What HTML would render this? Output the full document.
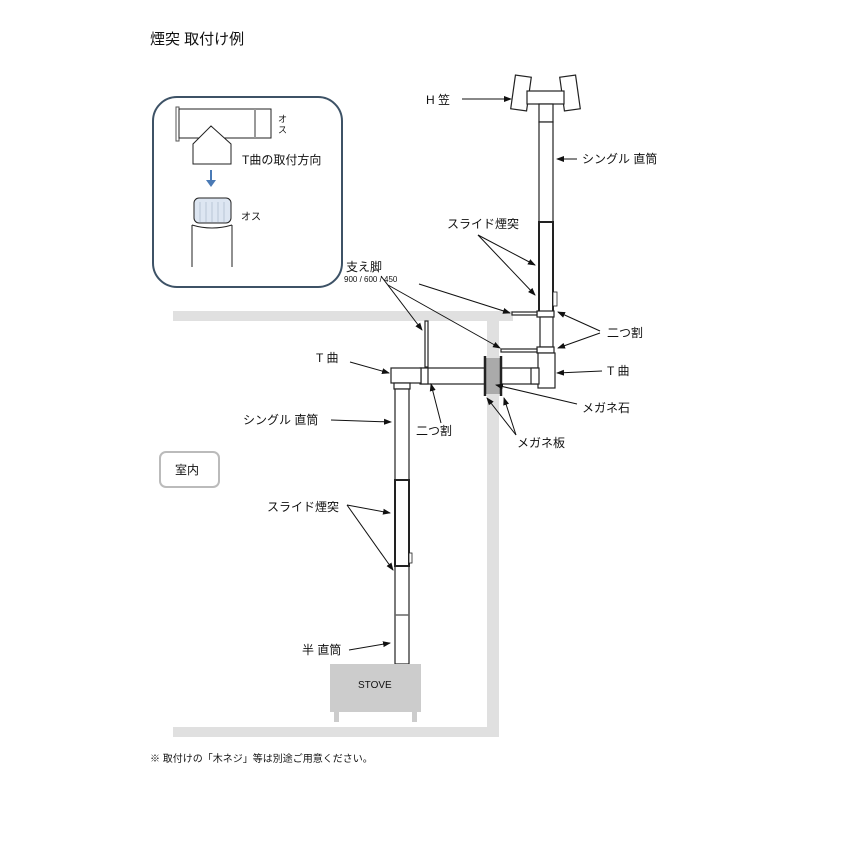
<!DOCTYPE html>
<html><head><meta charset="utf-8"><style>
html,body{margin:0;padding:0;background:#fff;}
svg{display:block;}
text{font-family:"Liberation Sans","Noto Sans CJK JP",sans-serif;fill:#111;}
</style></head><body>
<svg width="842" height="842" viewBox="0 0 842 842" xmlns="http://www.w3.org/2000/svg">
<defs><marker id="a" markerWidth="8" markerHeight="8" refX="7" refY="4" orient="auto" markerUnits="userSpaceOnUse"><path d="M0,1 L8,4 L0,7 Z" fill="#111"/></marker></defs>
<text x="150" y="44" font-size="15">煙突 取付け例</text>
<!-- inset -->
<rect x="153" y="97" width="189" height="190" rx="24" fill="#fff" stroke="#3d5266" stroke-width="2"/>
<rect x="176" y="107" width="3" height="34" fill="#fff" stroke="#555"/>
<rect x="179" y="109" width="92" height="29" fill="#fff" stroke="#222"/>
<line x1="255" y1="109" x2="255" y2="138" stroke="#999" stroke-width="2"/>
<path d="M193,164 L193,144 L211,126 L231,144 L231,164 Z" fill="#fff" stroke="#222"/>
<text x="278" y="122" font-size="9">オ</text><text x="278" y="133" font-size="9">ス</text>
<text x="242" y="164" font-size="12">T曲の取付方向</text>
<line x1="211" y1="170" x2="211" y2="182" stroke="#4a7ab5" stroke-width="2"/>
<path d="M206,180 L211,187 L216,180 Z" fill="#4a7ab5"/>
<rect x="194" y="198" width="37" height="25" rx="5" fill="#dde6f2" stroke="#222"/>
<g stroke="#aab8cc" stroke-width="0.7"><line x1="200" y1="202" x2="200" y2="222"/><line x1="206" y1="202" x2="206" y2="222"/><line x1="212" y1="202" x2="212" y2="222"/><line x1="218" y1="202" x2="218" y2="222"/><line x1="224" y1="202" x2="224" y2="222"/></g>
<path d="M192,225 Q212,231 232,225" fill="none" stroke="#222"/>
<line x1="192" y1="225" x2="192" y2="267" stroke="#222"/><line x1="232" y1="225" x2="232" y2="267" stroke="#222"/>
<text x="241" y="220" font-size="10">オス</text>
<!-- walls -->
<g fill="#e0e0e0">
<rect x="173" y="311" width="340" height="10"/>
<rect x="487" y="311" width="12" height="426"/>
<rect x="173" y="727" width="326" height="10"/>
</g>
<g stroke="#222" fill="#fff" stroke-width="1.2">
<rect x="513" y="76" width="16" height="34" transform="rotate(8 521 93)"/>
<rect x="562" y="76" width="16" height="34" transform="rotate(-8 570 93)"/>
<rect x="527" y="91" width="37" height="13"/>
<rect x="539" y="104" width="14" height="18"/>
<rect x="539" y="122" width="14" height="190"/>
<rect x="539" y="222" width="14" height="90" stroke-width="2"/>
<rect x="553" y="292" width="4" height="14" stroke-width="0.8"/>
<rect x="537" y="311" width="17" height="6"/>
<rect x="540" y="317" width="13" height="30"/>
<rect x="537" y="347" width="17" height="6"/>
<rect x="538" y="353" width="17" height="35"/>
<rect x="512" y="312" width="25" height="3"/>
<rect x="501" y="349" width="36" height="3"/>
<rect x="420" y="368" width="118" height="16"/>
<rect x="531" y="368" width="8" height="16"/>
<rect x="484" y="358" width="18" height="36" fill="#aaa" stroke="none"/>
<line x1="485" y1="356" x2="485" y2="396" stroke-width="2.5"/>
<line x1="501" y1="356" x2="501" y2="396" stroke-width="2.5"/>
<rect x="425" y="321" width="3" height="46"/>
<rect x="421" y="368" width="7" height="16"/>
<rect x="391" y="368" width="30" height="15"/>
<rect x="394" y="383" width="16" height="6"/>
<rect x="395" y="389" width="14" height="275"/>
<rect x="395" y="480" width="14" height="86" stroke-width="2"/>
<line x1="395" y1="566" x2="409" y2="566" stroke-dasharray="2,2"/>
<rect x="409" y="553" width="3" height="10" stroke-width="0.8"/>
<line x1="395" y1="615" x2="409" y2="615" stroke="#666" stroke-width="1.5"/>
</g>
<rect x="330" y="664" width="91" height="48" fill="#ccc"/>
<rect x="334" y="712" width="5" height="10" fill="#ccc"/><rect x="412" y="712" width="5" height="10" fill="#ccc"/>
<text x="358" y="688" font-size="10">STOVE</text>
<rect x="160" y="452" width="59" height="35" rx="6" fill="#fff" stroke="#bbb" stroke-width="2"/>
<text x="175" y="474" font-size="12">室内</text>
<g font-size="12">
<text x="426" y="104">H 笠</text>
<text x="582" y="163">シングル 直筒</text>
<text x="447" y="228">スライド煙突</text>
<text x="346" y="271">支え脚</text>
<text x="344" y="282" font-size="8">900 / 600 / 450</text>
<text x="607" y="337">二つ割</text>
<text x="607" y="375">T 曲</text>
<text x="582" y="412">メガネ石</text>
<text x="517" y="447">メガネ板</text>
<text x="316" y="362">T 曲</text>
<text x="243" y="424">シングル 直筒</text>
<text x="416" y="435">二つ割</text>
<text x="267" y="511">スライド煙突</text>
<text x="302" y="654">半 直筒</text>
<text x="150" y="762" font-size="10">※ 取付けの「木ネジ」等は別途ご用意ください。</text>
</g>
<g stroke="#111" stroke-width="1" marker-end="url(#a)">
<line x1="462" y1="99" x2="511" y2="99"/>
<line x1="577" y1="159" x2="557" y2="159"/>
<line x1="478" y1="235" x2="535" y2="265"/>
<line x1="478" y1="235" x2="535" y2="295"/>
<line x1="381" y1="276" x2="422" y2="330"/>
<line x1="388" y1="285" x2="500" y2="348"/>
<line x1="419" y1="284" x2="510" y2="313"/>
<line x1="600" y1="331" x2="558" y2="312"/>
<line x1="600" y1="333" x2="558" y2="348"/>
<line x1="602" y1="371" x2="557" y2="373"/>
<line x1="577" y1="404" x2="496" y2="385"/>
<line x1="516" y1="435" x2="487" y2="398"/>
<line x1="516" y1="435" x2="504" y2="398"/>
<line x1="350" y1="362" x2="389" y2="373"/>
<line x1="331" y1="420" x2="391" y2="422"/>
<line x1="441" y1="423" x2="431" y2="384"/>
<line x1="347" y1="505" x2="390" y2="513"/>
<line x1="347" y1="505" x2="393" y2="570"/>
<line x1="349" y1="650" x2="390" y2="643"/>
</g>
</svg>
</body></html>
